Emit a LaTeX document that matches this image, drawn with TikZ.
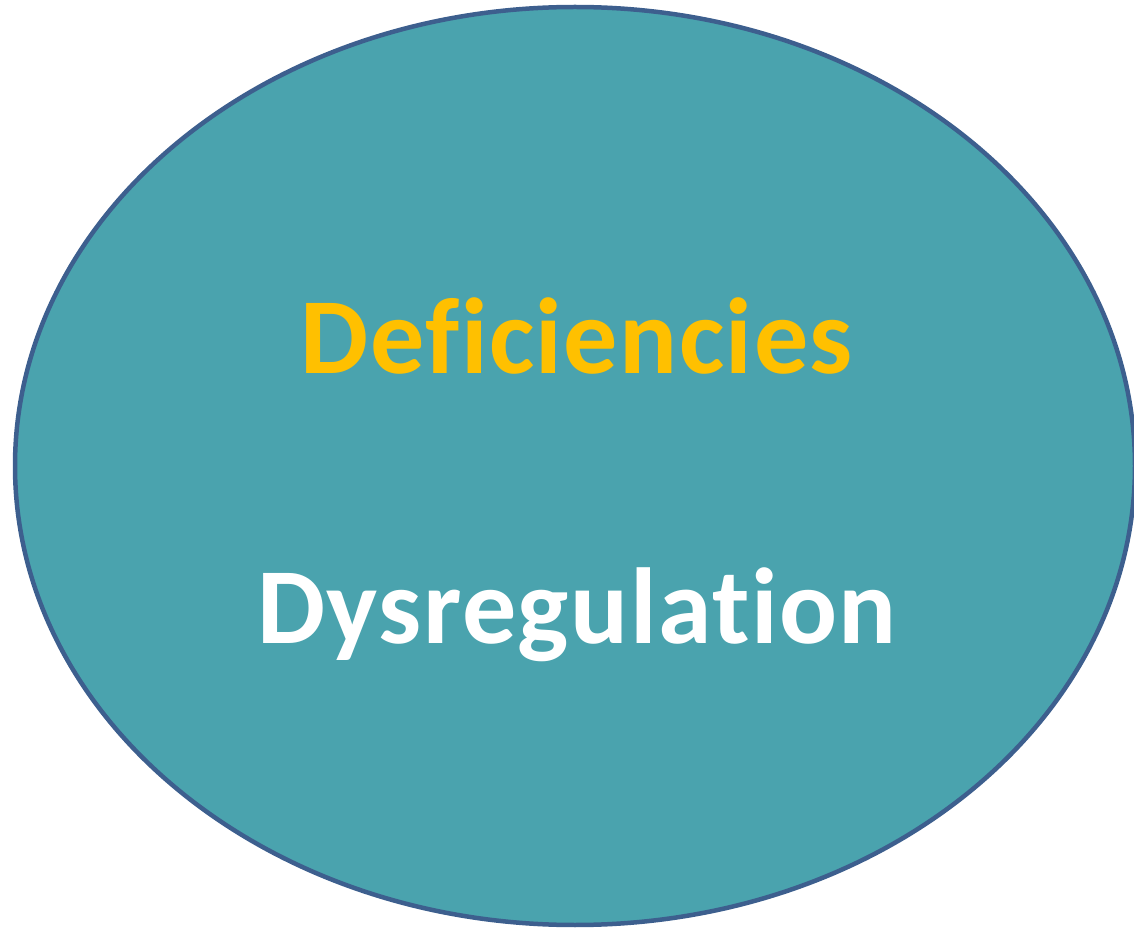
\documentclass[tikz,border=0pt]{standalone}
\usepackage{fontspec}
\setmainfont{Carlito}[Ligatures=NoCommon, LetterSpace=1.4]
\definecolor{tealfill}{HTML}{4AA3AE}
\definecolor{rimblue}{HTML}{3D5F8E}
\definecolor{gold}{HTML}{FFC000}
\begin{document}
\begin{tikzpicture}[x=0.02cm,y=-0.02cm,
  label text/.style={font=\bfseries\fontsize{61.5}{62}\selectfont, anchor=base, inner sep=0pt}]
\useasboundingbox (0,0) rectangle (1134,929);
\begin{scope}
\clip (0,0) rectangle (1134,929);
\draw[rimblue, fill=tealfill, line width=0.09cm] (575,466) ellipse [x radius=560, y radius=459];
\end{scope}
\node[label text, text=gold] (def) at (577,374) {Deficiencies};
\node[label text, text=white] (dys) at (577,643) {Dysregulation};
\end{tikzpicture}
\end{document}
